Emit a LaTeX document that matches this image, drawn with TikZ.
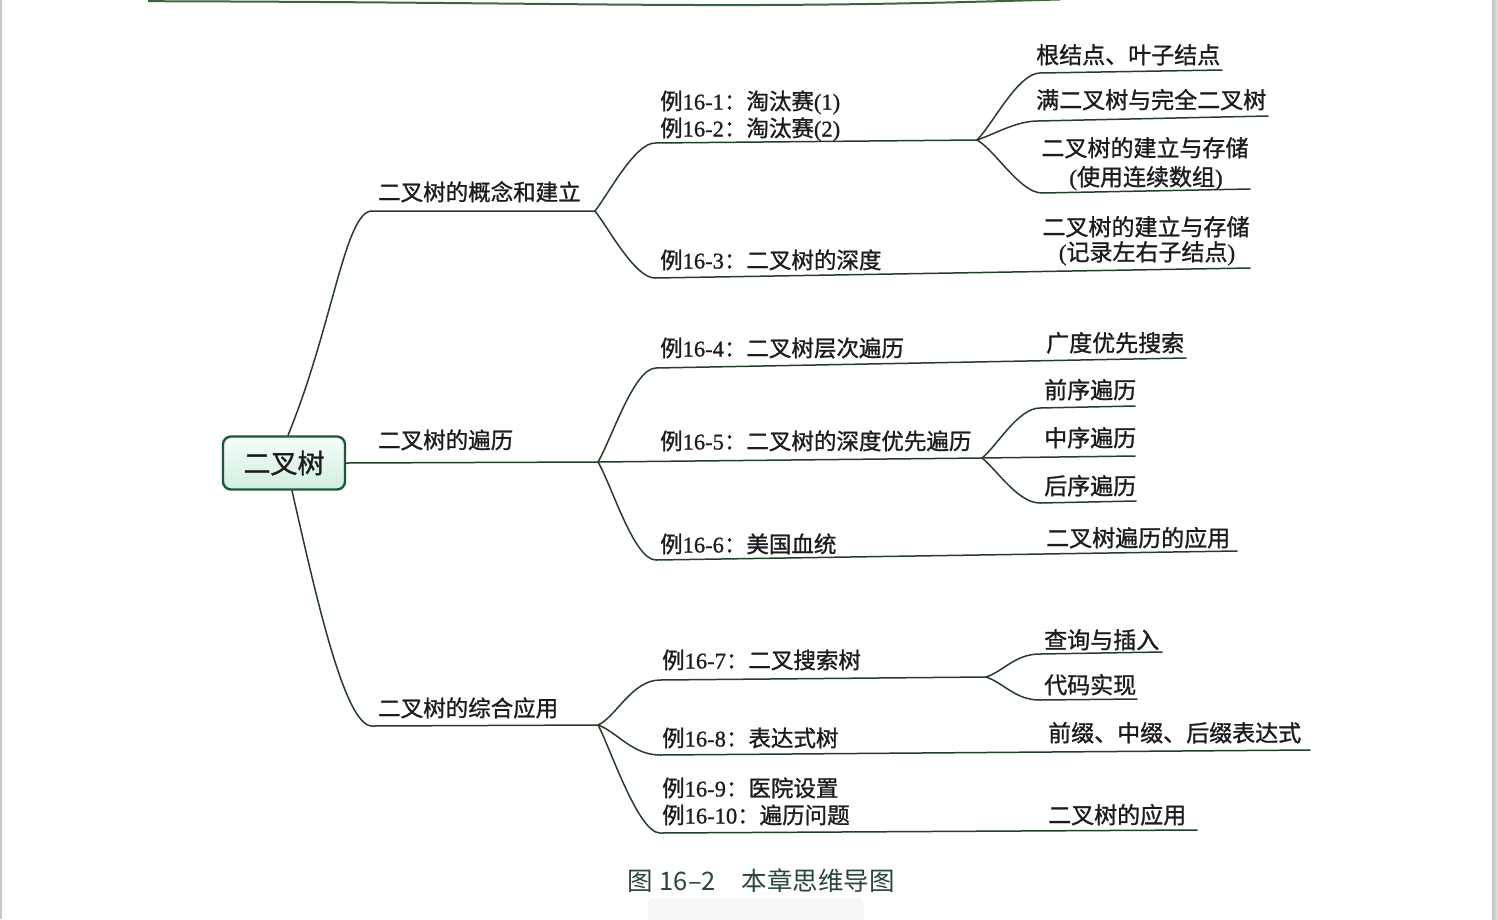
\documentclass[tikz,border=0pt]{standalone}
\usepackage{fontspec}
\setmainfont[FakeBold=0.9]{Liberation Serif}
\newfontfamily\zh[FakeBold=1.1]{Noto Sans CJK SC}
\newfontfamily\zhcap{Noto Sans CJK SC}
\newcommand\rmx[1]{{\rmfamily #1}}
\definecolor{ink}{RGB}{28,28,28}
\definecolor{branchgreen}{RGB}{38,62,40}
\definecolor{boxgreen}{RGB}{30,88,58}
\definecolor{boxtop}{RGB}{246,252,249}
\definecolor{boxbottom}{RGB}{208,238,224}
\definecolor{captiongreen}{RGB}{42,70,55}
\definecolor{edgegray}{RGB}{200,200,200}
\definecolor{bardark}{RGB}{195,195,195}
\definecolor{barlight}{RGB}{228,228,228}
\definecolor{rulegreen}{RGB}{60,100,65}
\definecolor{cardfill}{RGB}{247,247,247}
\definecolor{cardline}{RGB}{232,232,232}
\begin{document}
\begin{tikzpicture}[x=1pt,y=-1pt,
  br/.style={draw=branchgreen, line width=1.5pt, line cap=round, line join=round},
  lab/.style={anchor=base west, inner sep=0pt, text=ink, font=\zh\fontsize{22.5}{26}\selectfont},
  rlab/.style={lab, font=\zh\fontsize{23}{27}\selectfont},
  clab/.style={rlab, anchor=base},
  rootbox/.style={draw=boxgreen, line width=2.4pt, rounded corners=8pt,
    minimum width=122pt, minimum height=53pt, inner sep=0pt, text=ink,
    top color=boxtop, bottom color=boxbottom,
    font=\zh\fontsize{27}{30}\selectfont},
]
% page
\useasboundingbox (0,0) rectangle (1498,919);
\fill[white] (0,0) rectangle (1498,919);
\fill[edgegray] (0,0) rectangle (1.5,919);
\shade[left color=bardark, right color=barlight] (1492,0) rectangle (1498,919);
\draw[rulegreen, line width=2pt]
  (148,1.2) .. controls (450,2) and (600,5.5) .. (760,5) .. controls (900,4.5) and (1000,1) .. (1060,-0.5);
\draw[rounded corners=6pt, fill=cardfill, draw=cardline] (648,930) rectangle (863,899);

% root
\node[rootbox] (root) at (284,463) {二叉树};

% level 1
\coordinate (p1) at (595,211);  \coordinate (s1) at (372,211);
\coordinate (p2) at (598,462);
\coordinate (p3) at (598,725);  \coordinate (s3) at (372,726);
\draw[br] ([xshift=4pt]root.north) .. controls +(45,-110) and +(-27,0) .. (s1) -- (p1);
\draw[br] (root.east) -- (p2);
\draw[br] ([xshift=8pt]root.south) .. controls +(25,110) and +(-27,0) .. (s3) -- (p3);
\node[lab] (l1) at (378,200.5) {二叉树的概念和建立};
\node[lab] (l2) at (378,448.5) {二叉树的遍历};
\node[lab] (l3) at (378,716.5) {二叉树的综合应用};

% concepts
\coordinate (a1s) at (655,143); \coordinate (a1e) at (977,140);
\coordinate (a2s) at (655,278); \coordinate (a2e) at (1250,268);
\draw[br] (p1) .. controls +(14,-18) and +(-20,0) .. (a1s) -- (a1e);
\draw[br] (p1) .. controls +(14,18) and +(-20,0) .. (a2s) -- (a2e);
\node[lab] (e1) at (660,109.5) {例\rmx{16-1}：淘汰赛\rmx{(1)}};
\node[lab] (e2) at (660,136.5) {例\rmx{16-2}：淘汰赛\rmx{(2)}};
\node[lab] (e3) at (660,268.5) {例\rmx{16-3}：二叉树的深度};

\coordinate (b1s) at (1040,73);  \coordinate (b1e) at (1222,70);
\coordinate (b2s) at (1038,121); \coordinate (b2e) at (1268,116);
\coordinate (b3s) at (1042,193); \coordinate (b3e) at (1250,189);
\draw[br] (a1e) .. controls +(16,-16) and +(-22,0) .. (b1s) -- (b1e);
\draw[br] (a1e) .. controls +(18,-6) and +(-22,0) .. (b2s) -- (b2e);
\draw[br] (a1e) .. controls +(18,10) and +(-22,0) .. (b3s) -- (b3e);
\node[rlab] (k1) at (1036,63.5) {根结点、叶子结点};
\node[rlab] (k2) at (1036,108.5) {满二叉树与完全二叉树};
\node[clab] (k3) at (1145,156.5) {二叉树的建立与存储};
\node[clab] (k3b) at (1146,185.5) {\rmx{(}使用连续数组\rmx{)}};
\node[clab] (k4) at (1146,235.5) {二叉树的建立与存储};
\node[clab] (k4b) at (1147,260.5) {\rmx{(}记录左右子结点\rmx{)}};

% traversal
\coordinate (c1s) at (656,368); \coordinate (c1e) at (1186,358);
\coordinate (c2e) at (982,458);
\coordinate (c3s) at (656,560); \coordinate (c3e) at (1237,551);
\draw[br] (p2) .. controls +(14,-24) and +(-22,0) .. (c1s) -- (c1e);
\draw[br] (p2) -- (c2e);
\draw[br] (p2) .. controls +(14,24) and +(-22,0) .. (c3s) -- (c3e);
\node[lab] (e4) at (660,356.5) {例\rmx{16-4}：二叉树层次遍历};
\node[lab] (e5) at (660,449.5) {例\rmx{16-5}：二叉树的深度优先遍历};
\node[lab] (e6) at (660,552.5) {例\rmx{16-6}：美国血统};
\node[rlab] (k5) at (1046,351.5) {广度优先搜索};
\node[rlab] (k9) at (1046,546.5) {二叉树遍历的应用};

\coordinate (d1s) at (1040,408); \coordinate (d1e) at (1135,406);
\coordinate (d2e) at (1135,456);
\coordinate (d3s) at (1040,503); \coordinate (d3e) at (1136,501);
\draw[br] (c2e) .. controls +(15,-12) and +(-22,0) .. (d1s) -- (d1e);
\draw[br] (c2e) -- (d2e);
\draw[br] (c2e) .. controls +(15,12) and +(-22,0) .. (d3s) -- (d3e);
\node[rlab] (k6) at (1044,398.5) {前序遍历};
\node[rlab] (k7) at (1044,446.5) {中序遍历};
\node[rlab] (k8) at (1044,494.5) {后序遍历};

% applications
\coordinate (f1s) at (660,680); \coordinate (f1e) at (986,677);
\coordinate (f2s) at (660,755); \coordinate (f2e) at (1310,750);
\coordinate (f3s) at (660,833); \coordinate (f3e) at (1197,830);
\draw[br] (p3) .. controls +(18,-8) and +(-28,0) .. (f1s) -- (f1e);
\draw[br] (p3) .. controls +(18,6) and +(-28,0) .. (f2s) -- (f2e);
\draw[br] (p3) .. controls +(12,22) and +(-22,0) .. (f3s) -- (f3e);
\node[lab] (e7) at (662,668.5) {例\rmx{16-7}：二叉搜索树};
\node[lab] (e8) at (662,746.5) {例\rmx{16-8}：表达式树};
\node[lab] (e9) at (662,796.5) {例\rmx{16-9}：医院设置};
\node[lab] (e10) at (662,823.5) {例\rmx{16-10}：遍历问题};
\node[rlab] (k12) at (1048,741.5) {前缀、中缀、后缀表达式};
\node[rlab] (k13) at (1048,823.5) {二叉树的应用};

\coordinate (g1s) at (1040,654); \coordinate (g1e) at (1162,652);
\coordinate (g2s) at (1040,700); \coordinate (g2e) at (1137,699);
\draw[br] (f1e) .. controls +(18,-6) and +(-25,0) .. (g1s) -- (g1e);
\draw[br] (f1e) .. controls +(18,6) and +(-25,0) .. (g2s) -- (g2e);
\node[rlab] (k10) at (1044,648.5) {查询与插入};
\node[rlab] (k11) at (1044,693.5) {代码实现};

% caption
\node[anchor=base west, inner sep=0pt, text=captiongreen, font=\zhcap\fontsize{25.5}{30}\selectfont]
  (cap) at (627,890) {图\hspace{7pt}16–2\hspace{26pt}本章思维导图};
\end{tikzpicture}
\end{document}
